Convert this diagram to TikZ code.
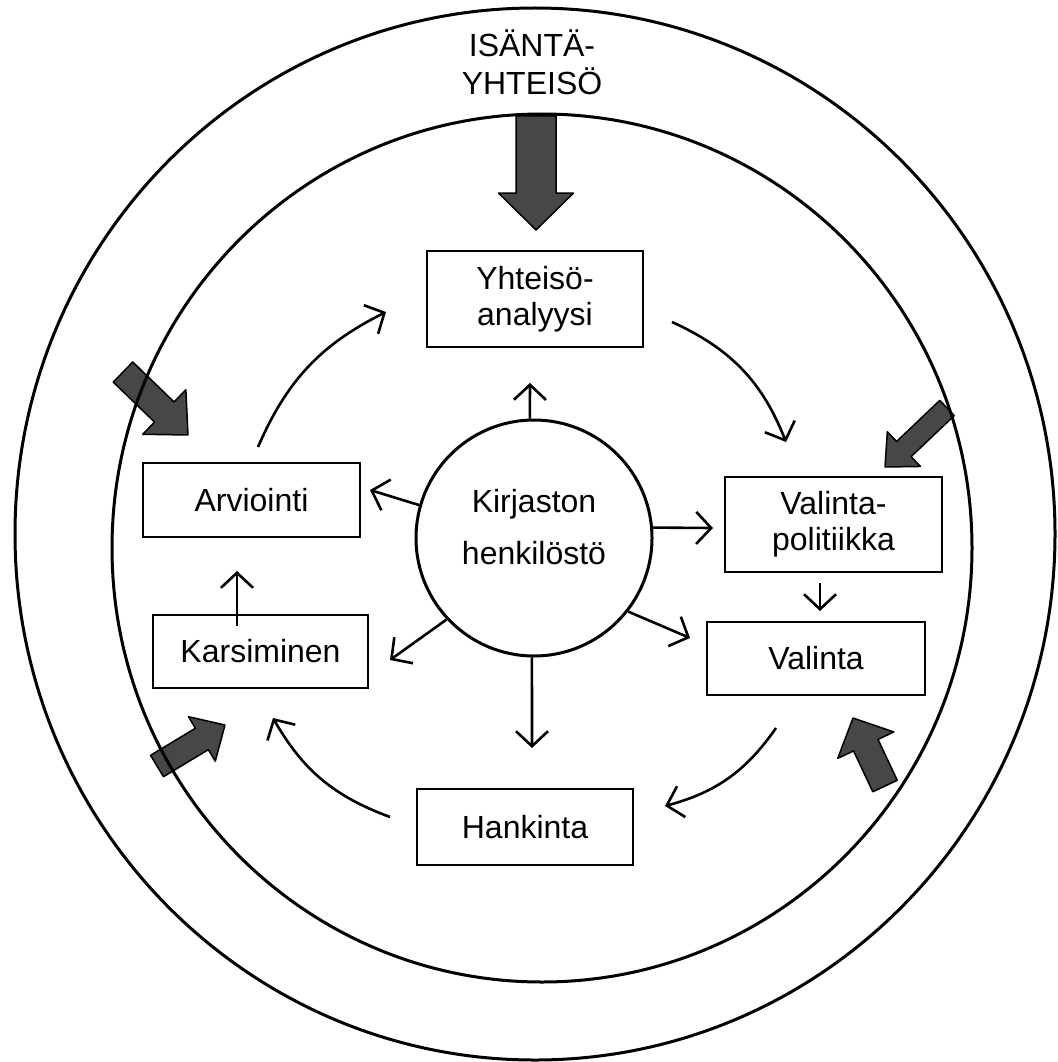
\documentclass[tikz,border=0pt]{standalone}
\usepackage{fontspec}
\setmainfont{Liberation Sans}
\usetikzlibrary{arrows.meta}
\newcommand\fatarrow[7]{%
  \pgfmathsetmacro\fdx{#3-(#1)}%
  \pgfmathsetmacro\fdy{#4-(#2)}%
  \pgfmathsetmacro\flen{veclen(\fdx,\fdy)}%
  \pgfmathsetmacro\fang{atan2(\fdy,\fdx)}%
  \pgfmathsetmacro\fb{\flen-#7}%
  \draw[fat, shift={(#1,#2)}, rotate=\fang]
    (0,-#5/2) -- (\fb,-#5/2) -- (\fb,-#6/2) -- (\flen,0) -- (\fb,#6/2) -- (\fb,#5/2) -- (0,#5/2) -- cycle;}
\begin{document}
\begin{tikzpicture}[x=1pt,y=1pt,
  txt/.style={font=\fontsize{32}{36}\selectfont, align=center, inner sep=0pt},
  box/.style={txt, draw, line width=2.4pt},
  thin/.style={line width=2.6pt, -{Straight Barb[length=15pt,width=32pt]}},
  fat/.style={draw=black, line width=1.5pt, fill=black!72, line join=round},
  ring/.style={line width=3pt}]
\useasboundingbox (0,0) rectangle (1057,-1062);
\fill[white] (0,0) rectangle (1057,-1062);

% fat arrows from the host community
\fatarrow{536}{-116}{536}{-230}{40}{75}{37}
\fatarrow{123}{-372}{188}{-435}{28}{62}{33}
\fatarrow{947}{-408}{885}{-467}{21}{48}{26}
\fatarrow{157}{-766}{225}{-725}{25}{52}{27}
\fatarrow{885}{-786}{853}{-718}{27}{62}{30}

% rings
\draw[ring] (535,-534) ellipse [x radius=520, y radius=526];
\draw[ring] (542,-548) ellipse [x radius=430, y radius=434];

\node[txt, font=\fontsize{32}{38}\selectfont] (host) at (532,-62) {ISÄNTÄ-\\YHTEISÖ};

% boxes
\node[box, minimum width=216pt, minimum height=96pt] (yht) at (535,-299) {Yhteisö-\\analyysi};
\node[box, minimum width=217pt, minimum height=74pt] (arv) at (251.5,-500) {Arviointi};
\node[box, minimum width=217pt, minimum height=95pt] (vpol) at (833.5,-524.5) {Valinta-\\politiikka};
\node[box, minimum width=218pt, minimum height=73pt] (val) at (816,-658.5) {Valinta};
\node[box, minimum width=215pt, minimum height=73pt] (kar) at (260.5,-651.5) {Karsiminen};
\node[box, minimum width=216pt, minimum height=76pt] (han) at (525,-827) {Hankinta};

% staff circle
\node[draw, circle, line width=3pt, minimum size=236pt, inner sep=0pt] (staff) at (534,-538) {};
\node[txt, font=\fontsize{32}{52}\selectfont] (stafftxt) at (534,-527) {Kirjaston\\henkilöstö};

% arrows from staff
\draw[thin] (staff.92) -- (530,-383);
\draw[thin] (staff.164) -- (370,-490);
\draw[thin] (staff.5) -- (713,-528);
\draw[thin] (staff.322) -- (690,-638);
\draw[thin] (staff.223) -- (390,-660);
\draw[thin] (staff.269) -- (532,-748);

% cycle arrows
\coordinate (a1) at (258,-447);  \coordinate (a2) at (386,-312);
\coordinate (b1) at (672,-322);  \coordinate (b2) at (786,-442);
\coordinate (c1) at (776,-728);  \coordinate (c2) at (665,-806);
\coordinate (d1) at (390,-817);  \coordinate (d2) at (273,-718);
\draw[thin] (a1) to[bend left=20] (a2);
\draw[thin] (b1) to[bend left=22] (b2);
\draw[thin] (c1) to[bend left=20] (c2);
\draw[thin] (d1) to[bend left=20] (d2);
\draw[thin] (vpol.south -| 820,0) ++(0,-10) -- (820,-611);
\draw[thin] (kar.north -| 237,0) ++(0,-12) -- (237,-571);
\end{tikzpicture}
\end{document}
